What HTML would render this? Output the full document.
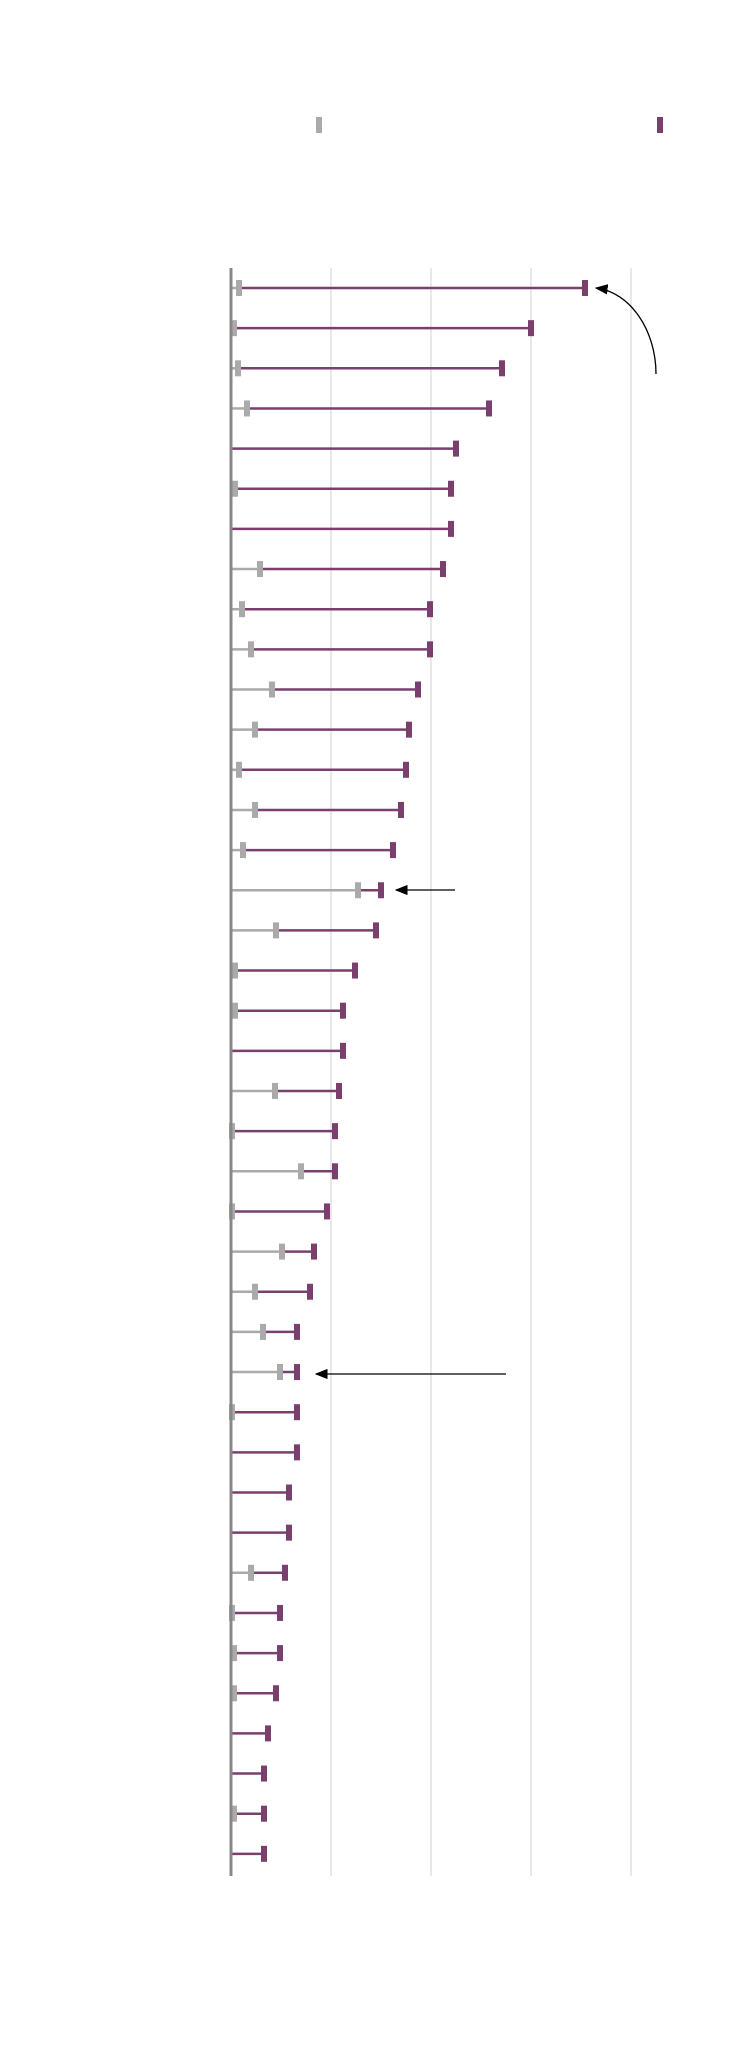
<!DOCTYPE html>
<html><head><style>html,body{margin:0;padding:0;background:#fff}svg{display:block}</style></head>
<body>
<svg width="750" height="2070" xmlns="http://www.w3.org/2000/svg">
<rect width="750" height="2070" fill="#fff"/>
<g stroke="#d0d0d0" stroke-width="1">
<line x1="331" y1="268" x2="331" y2="1876"/><line x1="431" y1="268" x2="431" y2="1876"/>
<line x1="531" y1="268" x2="531" y2="1876"/><line x1="631" y1="268" x2="631" y2="1876"/>
</g>
<rect x="316" y="117" width="6" height="16" fill="#aaa"/>
<rect x="657" y="117" width="6" height="16" fill="#7b3f6e"/>
<g id="rows"></g>
<line x1="231" y1="268" x2="231" y2="1876" stroke="#888" stroke-width="3"/>
<defs><marker id="ah" markerWidth="10" markerHeight="8" refX="9" refY="4" orient="auto"><path d="M0,0L10,4L0,8z" fill="#000"/></marker></defs>
<path d="M656,374 C656,330 630,292 596,288" fill="none" stroke="#000" stroke-width="1.3" marker-end="url(#ah)"/>
<line x1="455" y1="890" x2="396" y2="890" stroke="#000" stroke-width="1.3" marker-end="url(#ah)"/>
<line x1="506" y1="1374" x2="316" y2="1374" stroke="#000" stroke-width="1.3" marker-end="url(#ah)"/>
<g id="r2">
</g>
</svg>
<script>
var d=[[239,585],[234,531],[238,502],[247,489],[0,456],[235,451],[0,451],[260,443],[242,430],[251,430],[272,418],[255,409],[239,406],[255,401],[243,393],[358,381],[276,376],[235,355],[235,343],[0,343],[275,339],[232,335],[301,335],[232,327],[282,314],[255,310],[263,297],[280,297],[232,297],[0,297],[0,289],[0,289],[251,285],[232,280],[234,280],[234,276],[0,268],[0,264],[234,264],[0,264]];
var s='';
d.forEach(function(r,i){var y=288+i*40.15,g=r[0],p=r[1],st=g||231;
if(g)s+='<line x1="231" y1="'+y+'" x2="'+g+'" y2="'+y+'" stroke="#aaa" stroke-width="2.5"/>';
s+='<line x1="'+st+'" y1="'+y+'" x2="'+p+'" y2="'+y+'" stroke="#7b3f6e" stroke-width="2.5"/>';
if(g)s+='<rect x="'+(g-3)+'" y="'+(y-8)+'" width="6" height="16" fill="#aaa"/>';
s+='<rect x="'+(p-3)+'" y="'+(y-8)+'" width="6" height="16" fill="#7b3f6e"/>';});
document.getElementById('rows').innerHTML=s;
</script>
</body></html>
